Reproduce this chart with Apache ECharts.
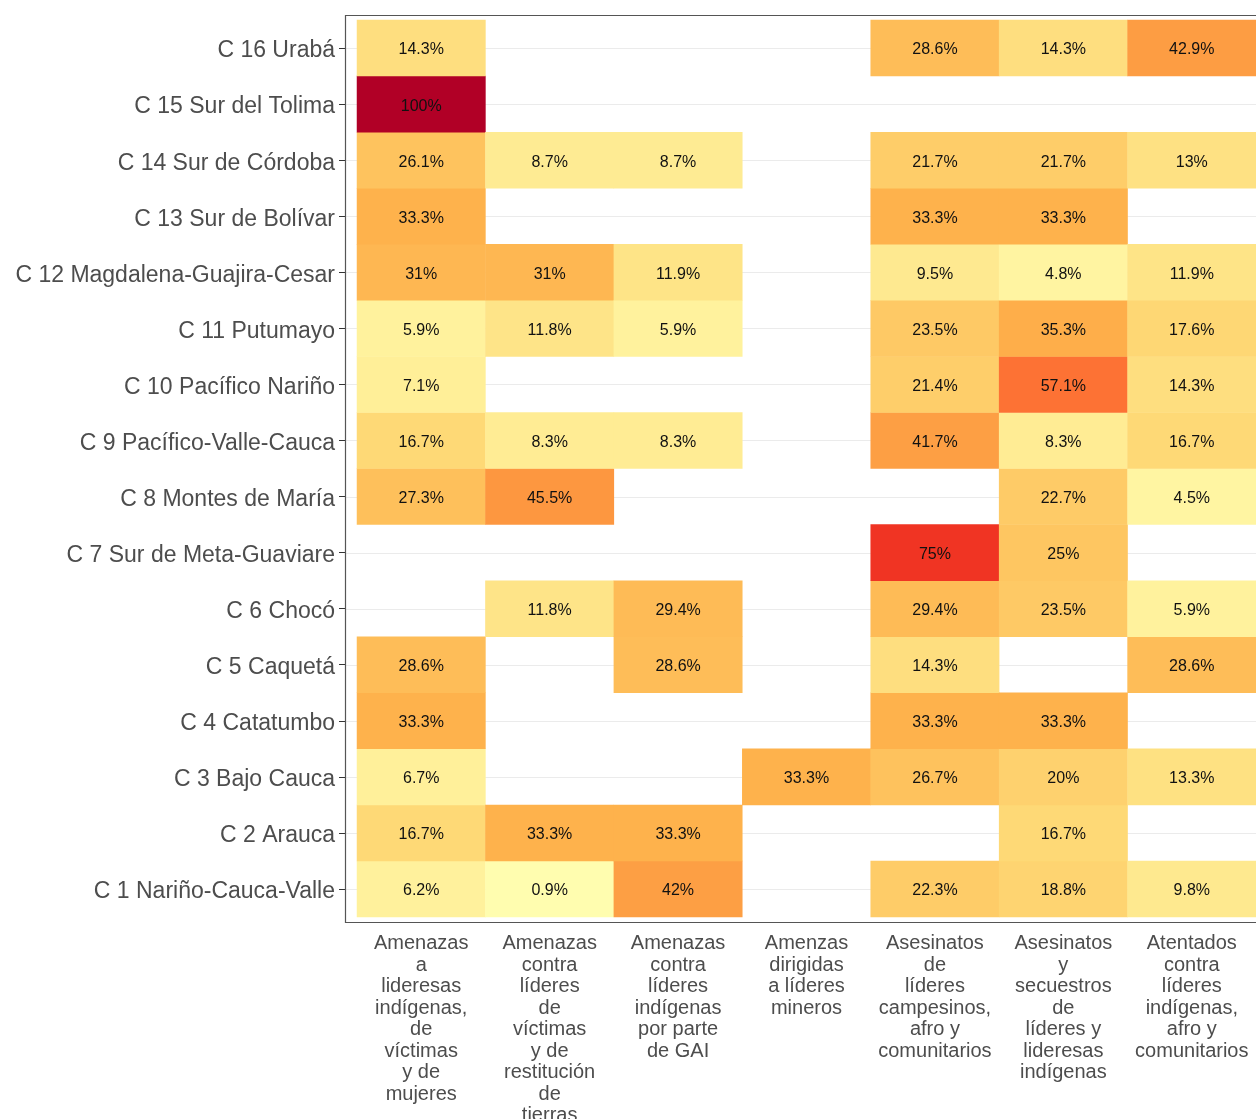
<!DOCTYPE html>
<html>
<head>
<meta charset="utf-8">
<script src="https://cdn.jsdelivr.net/npm/echarts@6/dist/echarts.min.js"></script>
<style>
  html, body { margin: 0; padding: 0; background: #fff; }
  #chart { width: 1256px; height: 1119px; }
</style>
</head>
<body>
<div id="chart"></div>
<script>
// categorias (eje x)
const xCats = [
  'Amenazas\na\nlideresas\nindígenas,\nde\nvíctimas\ny de\nmujeres',
  'Amenazas\ncontra\nlíderes\nde\nvíctimas\ny de\nrestitución\nde\ntierras',
  'Amenazas\ncontra\nlíderes\nindígenas\npor parte\nde GAI',
  'Amenzas\ndirigidas\na líderes\nmineros',
  'Asesinatos\nde\nlíderes\ncampesinos,\nafro y\ncomunitarios',
  'Asesinatos\ny\nsecuestros\nde\nlíderes y\nlideresas\nindígenas',
  'Atentados\ncontra\nlíderes\nindígenas,\nafro y\ncomunitarios'
];

// regiones (eje y, de abajo hacia arriba)
const yCats = [
  'C 1 Nariño-Cauca-Valle', 'C 2 Arauca', 'C 3 Bajo Cauca', 'C 4 Catatumbo',
  'C 5 Caquetá', 'C 6 Chocó', 'C 7 Sur de Meta-Guaviare', 'C 8 Montes de María',
  'C 9 Pacífico-Valle-Cauca', 'C 10 Pacífico Nariño', 'C 11 Putumayo',
  'C 12 Magdalena-Guajira-Cesar', 'C 13 Sur de Bolívar', 'C 14 Sur de Córdoba',
  'C 15 Sur del Tolima', 'C 16 Urabá'
];

// porcentajes por columna, en el orden de yCats (null = sin dato)
const amenazasMujeres      = [6.2, 16.7, 6.7, 33.3, 28.6, null, null, 27.3, 16.7, 7.1, 5.9, 31, 33.3, 26.1, 100, 14.3];
const amenazasVictimas     = [0.9, 33.3, null, null, null, 11.8, null, 45.5, 8.3, null, 11.8, 31, null, 8.7, null, null];
const amenazasGAI          = [42, 33.3, null, null, 28.6, 29.4, null, null, 8.3, null, 5.9, 11.9, null, 8.7, null, null];
const amenazasMineros      = [null, null, 33.3, null, null, null, null, null, null, null, null, null, null, null, null, null];
const asesinatosCampesinos = [22.3, null, 26.7, 33.3, 14.3, 29.4, 75, null, 41.7, 21.4, 23.5, 9.5, 33.3, 21.7, null, 28.6];
const asesinatosIndigenas  = [18.8, 16.7, 20, 33.3, null, 23.5, 25, 22.7, 8.3, 57.1, 35.3, 4.8, 33.3, 21.7, null, 14.3];
const atentados            = [9.8, null, 13.3, null, 28.6, 5.9, null, 4.5, 16.7, 14.3, 17.6, 11.9, null, 13, null, 42.9];

const columns = [amenazasMujeres, amenazasVictimas, amenazasGAI, amenazasMineros,
                 asesinatosCampesinos, asesinatosIndigenas, atentados];

const data = [];
columns.forEach((col, xi) => {
  col.forEach((v, yi) => {
    if (v !== null) data.push([xi, yi, v]);
  });
});

const chart = echarts.init(document.getElementById('chart'));

const option = {
  animation: false,
  textStyle: { fontFamily: 'Liberation Sans, Arial, sans-serif' },
  grid: { left: 357, right: 0, top: 20, bottom: 202, containLabel: false, outerBoundsMode: 'none' },
  xAxis: {
    type: 'category',
    data: xCats,
    offset: 5,
    axisLine: { show: false },
    axisTick: { show: false },
    splitLine: { show: false },
    axisLabel: {
      color: '#4d4d4d',
      fontSize: 20,
      lineHeight: 21.5,
      margin: 11,
      interval: 0,
      align: 'center'
    }
  },
  yAxis: {
    type: 'category',
    data: yCats,
    offset: 12,
    axisLine: { show: false },
    axisTick: { show: true, alignWithLabel: true, length: 6, lineStyle: { color: '#333' } },
    splitLine: { show: false },
    axisLabel: {
      color: '#4d4d4d',
      fontSize: 23,
      margin: 10,
      interval: 0,
      formatter: v => '{a|' + v + '}',
      rich: { a: { color: '#4d4d4d', fontSize: 23, padding: [6, 0, 0, 0] } }
    }
  },
  visualMap: {
    show: false,
    min: 0,
    max: 100,
    calculable: false,
    inRange: {
      color: ['#FFFFB2', '#FED976', '#FEB24C', '#FD8D3C', '#FC4E2A', '#E31A1C', '#B10026']
    }
  },
  series: [{
    type: 'heatmap',
    data: data,
    z: 2,
    label: {
      show: true,
      color: '#111',
      fontSize: 16,
      offset: [0, 2],
      formatter: p => p.value[2] + '%'
    },
    itemStyle: { borderWidth: 0 },
    emphasis: { disabled: true }
  }]
};

chart.setOption(option);

// lineas de guia horizontales y borde del panel
const gridLines = yCats.map(c => {
  const y = Math.round(chart.convertToPixel({ yAxisIndex: 0 }, c)) + 0.5;
  return {
    type: 'line',
    z: 0,
    silent: true,
    shape: { x1: 345, y1: y, x2: 1268, y2: y },
    style: { stroke: '#ebebeb', lineWidth: 1.2 }
  };
});

chart.setOption({
  graphic: gridLines.concat([{
    type: 'rect',
    z: 5,
    silent: true,
    shape: { x: 345.5, y: 15.5, width: 930, height: 907 },
    style: { fill: null, stroke: '#555', lineWidth: 1.2 }
  }])
});
</script>
</body>
</html>
